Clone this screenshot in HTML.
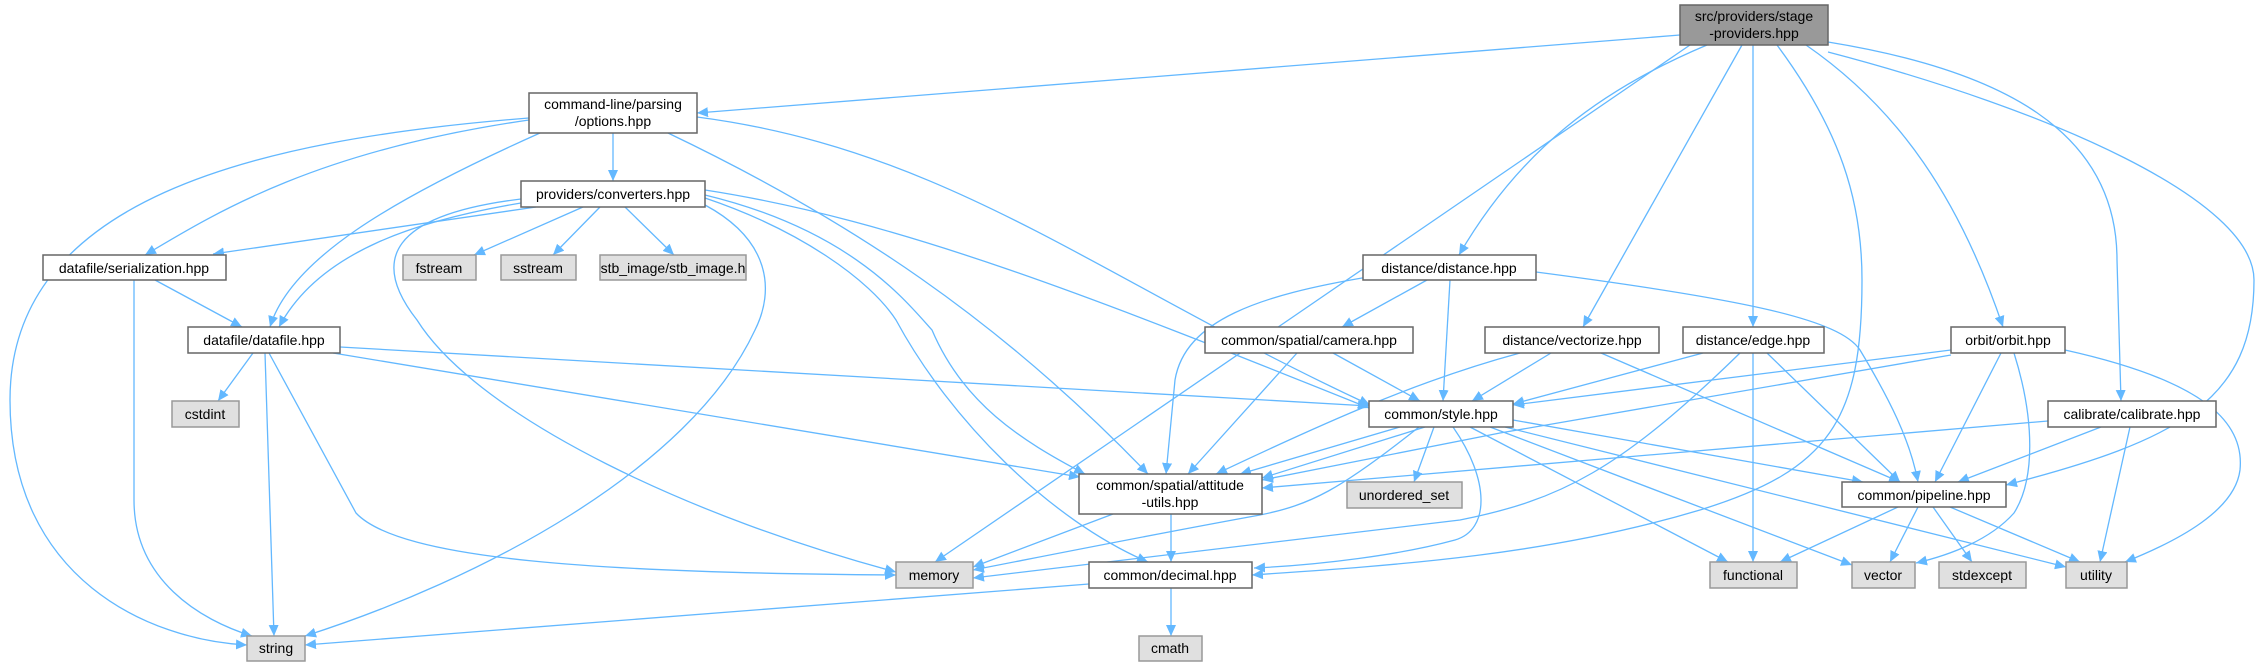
<!DOCTYPE html>
<html><head><meta charset="utf-8"><style>
html,body{margin:0;padding:0;background:#fff;}
svg{display:block;}
text{font-family:"Liberation Sans",sans-serif;font-size:14px;fill:#000;text-anchor:middle;}
.e{fill:none;stroke:#63b8ff;stroke-width:1.3;marker-end:url(#a);}
.n{fill:#fff;stroke:#666;stroke-width:1.5;}
.g{fill:#e0e0e0;stroke:#999;stroke-width:1.5;}
</style></head><body>
<svg width="2258" height="667" viewBox="0 0 2258 667" xmlns="http://www.w3.org/2000/svg">
<defs><marker id="a" markerUnits="userSpaceOnUse" markerWidth="12" markerHeight="10" refX="11" refY="5" orient="auto"><path d="M0,0 L11,5 L0,10 z" fill="#63b8ff"/></marker></defs>
<g>
<!-- root edges -->
<path class="e" d="M1680,35 L697,113"/>
<path class="e" d="M1690,45 L935,562"/>
<path class="e" d="M1707,45 C1600,90 1520,150 1459,255"/>
<path class="e" d="M1742,45 L1583,327"/>
<path class="e" d="M1753,45 L1753,327"/>
<path class="e" d="M1777,45 C1840,130 1862,200 1862,280 C1862,420 1830,470 1700,510 C1550,555 1400,565 1252,575"/>
<path class="e" d="M1806,45 C1900,110 1960,200 2003,327"/>
<path class="e" d="M1828,42 C2000,70 2117,130 2117,260 L2121,401"/>
<path class="e" d="M1828,52 C2050,110 2254,200 2254,280 C2254,400 2180,440 2006,485"/>
<!-- options -->
<path class="e" d="M529,118 C250,140 10,200 10,400 C10,580 150,640 247,645"/>
<path class="e" d="M529,120 C320,150 220,210 145,255"/>
<path class="e" d="M540,133 C390,200 290,260 270,327"/>
<path class="e" d="M613,133 L613,181"/>
<path class="e" d="M668,133 C850,220 1000,320 1148,474"/>
<path class="e" d="M697,117 C950,150 1100,280 1370,405"/>
<!-- converters -->
<path class="e" d="M536,207 L213,254"/>
<path class="e" d="M521,203 C420,220 320,250 279,327"/>
<path class="e" d="M583,207 L474,255"/>
<path class="e" d="M600,207 L553,255"/>
<path class="e" d="M625,207 L674,255"/>
<path class="e" d="M521,199 C390,215 370,260 417,320 C480,420 700,520 896,572"/>
<path class="e" d="M705,205 C770,240 775,290 755,330 C690,470 480,580 305,636"/>
<path class="e" d="M705,195 C850,230 905,300 932,330 C963,403 1020,440 1085,474"/>
<path class="e" d="M705,198 C800,230 870,280 896,320 C950,420 1050,520 1148,562"/>
<path class="e" d="M705,190 C900,220 1100,300 1369,408"/>
<!-- datafile -->
<path class="e" d="M253,353 L218,401"/>
<path class="e" d="M265,353 L274,636"/>
<path class="e" d="M269,353 L356,513 C400,560 600,573 896,575"/>
<path class="e" d="M340,347 L1369,406"/>
<path class="e" d="M333,353 L1080,477"/>
<!-- serialization -->
<path class="e" d="M155,280 L242,327"/>
<path class="e" d="M134,280 L134,500 C134,580 200,620 252,636"/>
<!-- distance -->
<path class="e" d="M1427,280 L1342,327"/>
<path class="e" d="M1450,280 L1443,401"/>
<path class="e" d="M1368,277 C1260,295 1185,320 1175,380 L1166,474"/>
<path class="e" d="M1536,272 C1750,300 1840,320 1860,350 C1890,400 1910,440 1918,482"/>
<!-- camera -->
<path class="e" d="M1297,353 L1188,474"/>
<path class="e" d="M1333,353 L1420,401"/>
<!-- vectorize -->
<path class="e" d="M1551,353 L1472,401"/>
<path class="e" d="M1520,353 C1420,380 1330,420 1216,474"/>
<path class="e" d="M1601,353 L1900,482"/>
<!-- edge -->
<path class="e" d="M1703,353 L1513,404"/>
<path class="e" d="M1740,353 C1620,470 1560,500 1460,520 L973,578"/>
<path class="e" d="M1753,353 L1753,562"/>
<path class="e" d="M1767,353 L1900,482"/>
<!-- orbit -->
<path class="e" d="M1951,350 L1513,405"/>
<path class="e" d="M1951,355 L1500,433 L1262,480"/>
<path class="e" d="M2001,353 L1935,482"/>
<path class="e" d="M2014,353 C2035,420 2035,480 2014,513 C1990,540 1950,555 1916,563"/>
<path class="e" d="M2065,350 C2200,380 2245,420 2240,470 C2235,510 2180,540 2125,562"/>
<!-- calibrate -->
<path class="e" d="M2048,421 L1262,488"/>
<path class="e" d="M2101,427 L1958,482"/>
<path class="e" d="M2130,427 L2100,562"/>
<!-- style -->
<path class="e" d="M1400,427 L1240,474"/>
<path class="e" d="M1425,427 L1262,478"/>
<path class="e" d="M1434,427 L1414,482"/>
<path class="e" d="M1419,427 C1340,490 1310,505 1260,515 C1150,535 1050,555 973,570"/>
<path class="e" d="M1453,427 C1490,480 1490,530 1455,540 C1400,555 1320,565 1254,568"/>
<path class="e" d="M1470,427 L1728,562"/>
<path class="e" d="M1490,427 L1852,565"/>
<path class="e" d="M1505,427 L2066,567"/>
<path class="e" d="M1513,420 L1863,482"/>
<!-- attitude -->
<path class="e" d="M1113,514 L973,567"/>
<path class="e" d="M1171,514 L1171,562"/>
<!-- decimal -->
<path class="e" d="M1089,584 L305,645"/>
<path class="e" d="M1171,588 L1171,636"/>
<!-- pipeline -->
<path class="e" d="M1898,507 L1780,562"/>
<path class="e" d="M1918,507 L1890,562"/>
<path class="e" d="M1933,507 L1972,562"/>
<path class="e" d="M1950,507 L2080,562"/>
</g>
<g>
<rect x="1680" y="5" width="148" height="40" fill="#999" stroke="#666" stroke-width="1.5"/>
<text x="1754" y="21">src/providers/stage</text><text x="1754" y="38">-providers.hpp</text>
<rect class="n" x="529" y="93" width="168" height="40"/>
<text x="613" y="109">command-line/parsing</text><text x="613" y="126">/options.hpp</text>
<rect class="n" x="521" y="181" width="184" height="26"/><text x="613" y="199">providers/converters.hpp</text>
<rect class="n" x="43" y="255" width="183" height="25"/><text x="134" y="273">datafile/serialization.hpp</text>
<rect class="g" x="403" y="255" width="73" height="25"/><text x="439" y="273">fstream</text>
<rect class="g" x="501" y="255" width="75" height="25"/><text x="538" y="273">sstream</text>
<rect class="g" x="600" y="255" width="146" height="25"/><text x="673" y="273">stb_image/stb_image.h</text>
<rect class="n" x="1363" y="255" width="173" height="25"/><text x="1449" y="273">distance/distance.hpp</text>
<rect class="n" x="188" y="327" width="152" height="26"/><text x="264" y="345">datafile/datafile.hpp</text>
<rect class="n" x="1205" y="327" width="208" height="26"/><text x="1309" y="345">common/spatial/camera.hpp</text>
<rect class="n" x="1485" y="327" width="174" height="26"/><text x="1572" y="345">distance/vectorize.hpp</text>
<rect class="n" x="1683" y="327" width="141" height="26"/><text x="1753" y="345">distance/edge.hpp</text>
<rect class="n" x="1951" y="327" width="114" height="26"/><text x="2008" y="345">orbit/orbit.hpp</text>
<rect class="g" x="172" y="401" width="67" height="26"/><text x="205" y="419">cstdint</text>
<rect class="n" x="1369" y="401" width="144" height="26"/><text x="1441" y="419">common/style.hpp</text>
<rect class="n" x="2048" y="401" width="168" height="26"/><text x="2132" y="419">calibrate/calibrate.hpp</text>
<rect class="n" x="1079" y="474" width="183" height="40"/>
<text x="1170" y="490">common/spatial/attitude</text><text x="1170" y="507">-utils.hpp</text>
<rect class="g" x="1347" y="482" width="115" height="26"/><text x="1404" y="500">unordered_set</text>
<rect class="n" x="1842" y="482" width="164" height="25"/><text x="1924" y="500">common/pipeline.hpp</text>
<rect class="g" x="896" y="562" width="77" height="26"/><text x="934" y="580">memory</text>
<rect class="n" x="1089" y="562" width="163" height="26"/><text x="1170" y="580">common/decimal.hpp</text>
<rect class="g" x="1710" y="562" width="87" height="26"/><text x="1753" y="580">functional</text>
<rect class="g" x="1852" y="562" width="63" height="26"/><text x="1883" y="580">vector</text>
<rect class="g" x="1939" y="562" width="87" height="26"/><text x="1982" y="580">stdexcept</text>
<rect class="g" x="2066" y="562" width="61" height="26"/><text x="2096" y="580">utility</text>
<rect class="g" x="1139" y="636" width="63" height="25"/><text x="1170" y="653">cmath</text>
<rect class="g" x="247" y="636" width="58" height="25"/><text x="276" y="653">string</text>
</g>
</svg>
</body></html>
